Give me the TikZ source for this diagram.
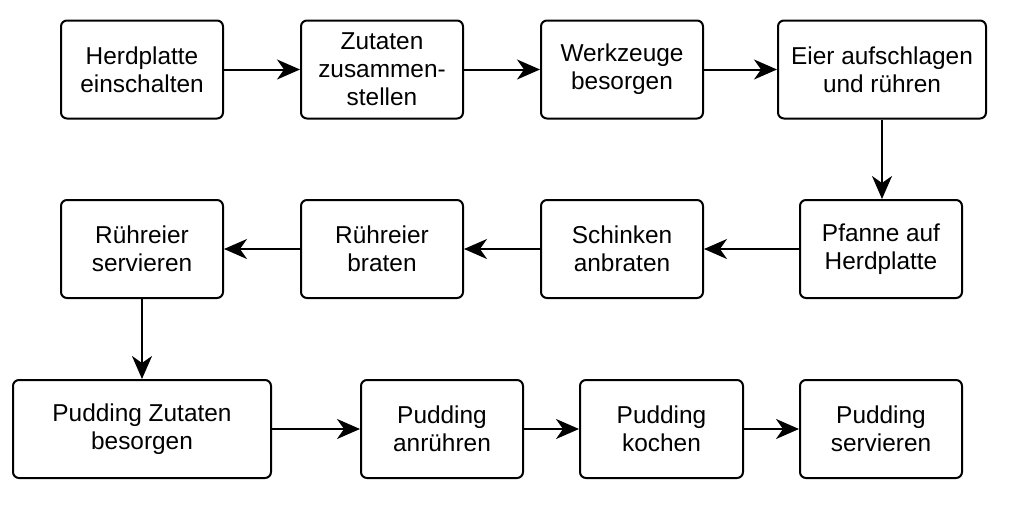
\documentclass[tikz,border=0pt]{standalone}
\usepackage{fontspec}
\setmainfont{Liberation Sans}
\usetikzlibrary{arrows.meta}
\begin{document}
\begin{tikzpicture}[x=0.5pt,y=-0.5pt,
  stepbox/.style={draw, line width=1pt, rounded corners=3pt, inner sep=0pt,
    minimum width=81pt, minimum height=49pt, align=center,
    font=\fontsize{12.2}{14}\selectfont},
  arr/.style={draw, line width=1pt, -{Stealth[length=11.5pt,width=10pt,inset=3.5pt]}}]
\useasboundingbox (0,0) rectangle (1012,530);
% row 1
\node[stepbox] (a1) at (142,69.5) {Herdplatte\\einschalten};
\node[stepbox] (a2) at (382,69.5) {Zutaten\\zusammen-\\stellen};
\node[stepbox] (a3) at (622,69.5) {Werkzeuge\\besorgen};
\node[stepbox, minimum width=104pt] (a4) at (882,69.5) {Eier aufschlagen\\und rühren};
% row 2
\node[stepbox] (b1) at (142,249) {Rühreier\\servieren};
\node[stepbox] (b2) at (382,249) {Rühreier\\braten};
\node[stepbox] (b3) at (622,249) {Schinken\\anbraten};
\node[stepbox] (b4) at (881,249) {Pfanne auf\\Herdplatte};
% row 3
\node[stepbox, minimum width=129pt] (c1) at (142,429) {Pudding Zutaten\\besorgen};
\node[stepbox] (c2) at (442,429) {Pudding\\anrühren};
\node[stepbox, minimum width=81.5pt] (c3) at (661.5,429) {Pudding\\kochen};
\node[stepbox] (c4) at (881,429) {Pudding\\servieren};
% connectors
\draw[arr] (a1) -- (a2);
\draw[arr] (a2) -- (a3);
\draw[arr] (a3) -- (a4);
\draw[arr] (a4.south) -- (a4.south |- b4.north);
\draw[arr] (b4) -- (b3);
\draw[arr] (b3) -- (b2);
\draw[arr] (b2) -- (b1);
\draw[arr] (b1) -- (c1);
\draw[arr] (c1) -- (c2);
\draw[arr] (c2) -- (c3);
\draw[arr] (c3) -- (c4);
\end{tikzpicture}
\end{document}
